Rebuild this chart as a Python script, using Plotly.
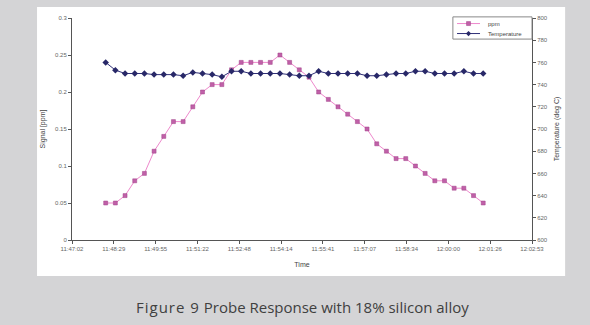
import plotly.graph_objects as go

# Sample times (hh:mm:ss) and readings
times = [
    "11:48:12", "11:48:32", "11:48:52", "11:49:12", "11:49:32", "11:49:52", "11:50:12", "11:50:32",
    "11:50:52", "11:51:12", "11:51:32", "11:51:52", "11:52:12", "11:52:32", "11:52:52", "11:53:12",
    "11:53:32", "11:53:52", "11:54:12", "11:54:32", "11:54:52", "11:55:12", "11:55:32", "11:55:52",
    "11:56:12", "11:56:32", "11:56:52", "11:57:12", "11:57:32", "11:57:52", "11:58:12", "11:58:32",
    "11:58:52", "11:59:12", "11:59:32", "11:59:52", "12:00:12", "12:00:32", "12:00:52", "12:01:12",
]
ppm = [
    0.05, 0.05, 0.06, 0.08, 0.09, 0.12, 0.14, 0.16, 0.16, 0.18,
    0.20, 0.21, 0.21, 0.23, 0.24, 0.24, 0.24, 0.24, 0.25, 0.24,
    0.23, 0.22, 0.20, 0.19, 0.18, 0.17, 0.16, 0.15, 0.13, 0.12,
    0.11, 0.11, 0.10, 0.09, 0.08, 0.08, 0.07, 0.07, 0.06, 0.05,
]
temperature = [
    760, 753, 750, 750, 750, 749, 749, 749, 748, 751,
    750, 749, 747, 752, 752, 750, 750, 750, 750, 749,
    748, 748, 752, 750, 750, 750, 750, 748, 748, 749,
    750, 750, 752, 752, 750, 750, 750, 752, 750, 750,
]

# Time axis ticks (fraction of a day) and their labels
tick_days = [0.491, 0.492, 0.493, 0.494, 0.495, 0.496, 0.497, 0.498, 0.499, 0.500, 0.501, 0.502]
tick_labels = ["11:47:02", "11:48:29", "11:49:55", "11:51:22", "11:52:48", "11:54:14",
               "11:55:41", "11:57:07", "11:58:34", "12:00:00", "12:01:26", "12:02:53"]

PPM_LINE, PPM_MARK, PPM_EDGE = "#ee88cc", "#c060a8", "#a04088"
TEMP_LINE, TEMP_MARK = "#303078", "#282868"


def to_day_fraction(hms):
    h, m, s = (int(p) for p in hms.split(":"))
    return (h * 3600 + m * 60 + s) / 86400.0


x_days = [to_day_fraction(t) for t in times]

fig = go.Figure()
fig.add_trace(go.Scatter(
    x=x_days, y=ppm, name="ppm", mode="lines+markers",
    line=dict(color=PPM_LINE, width=1),
    marker=dict(symbol="square", size=4, color=PPM_MARK,
                line=dict(color=PPM_EDGE, width=0.5)),
))
fig.add_trace(go.Scatter(
    x=x_days, y=temperature, name="Temperature", mode="lines+markers", yaxis="y2",
    line=dict(color=TEMP_LINE, width=1),
    marker=dict(symbol="diamond", size=5, color=TEMP_MARK),
))

tick_font = dict(family="Liberation Sans, Arial, sans-serif", size=6, color="#666666")
title_font = dict(family="Liberation Sans, Arial, sans-serif", size=7, color="#444444")

# White chart panel behind the plot area
fig.add_shape(type="rect", xref="paper", yref="paper",
              x0=-0.076, x1=1.072, y0=-0.162, y1=1.05,
              fillcolor="white", line=dict(width=0), layer="below")

# Compact legend box in the top-right corner of the plot area
fig.add_shape(type="rect", xref="paper", yref="paper",
              x0=0.828, x1=1.0, y0=0.905, y1=1.005,
              fillcolor="white", line=dict(color="#888888", width=1))
legend_rows = [("ppm", 0.975, PPM_LINE, PPM_MARK, "square"),
               ("Temperature", 0.930, TEMP_LINE, TEMP_MARK, "diamond")]
for label, ly, lcol, mcol, sym in legend_rows:
    fig.add_shape(type="line", xref="paper", yref="paper",
                  x0=0.837, x1=0.887, y0=ly, y1=ly, line=dict(color=lcol, width=1))
    if sym == "square":
        fig.add_shape(type="rect", xref="paper", yref="paper",
                      xsizemode="pixel", ysizemode="pixel", xanchor=0.862, yanchor=ly,
                      x0=-2, x1=2, y0=-2, y1=2, fillcolor=mcol, line=dict(color=PPM_EDGE, width=0.5))
    else:
        fig.add_shape(type="path", xref="paper", yref="paper",
                      xsizemode="pixel", ysizemode="pixel", xanchor=0.862, yanchor=ly,
                      path="M 0 -2.6 L 2.6 0 L 0 2.6 L -2.6 0 Z", fillcolor=mcol, line=dict(width=0))
    fig.add_annotation(text=label, xref="paper", yref="paper", x=0.9, y=ly,
                       xanchor="left", yanchor="middle", showarrow=False,
                       font=dict(family="Liberation Sans, Arial, sans-serif", size=6, color="#444444"))

fig.add_annotation(
    text="<span style='letter-spacing:1px'>Figure 9</span> Probe Response with 18% silicon alloy",
    xref="paper", yref="paper", x=0.5, y=-0.302, showarrow=False,
    xanchor="center", yanchor="middle",
    font=dict(family="Open Sans, sans-serif", size=15, color="#404040"),
)

fig.update_layout(
    width=590, height=325,
    margin=dict(l=72, r=58, t=18, b=85),
    paper_bgcolor="#d4d4d6",
    plot_bgcolor="white",
    showlegend=False,
    xaxis=dict(
        range=[0.491, 0.502], tickmode="array", tickvals=tick_days, ticktext=tick_labels,
        showgrid=False, zeroline=False, showline=True, linecolor="#555555", linewidth=1,
        ticks="outside", ticklen=3, tickcolor="#555555", tickfont=tick_font,
        title=dict(text="Time", font=title_font, standoff=10),
    ),
    yaxis=dict(
        range=[0, 0.3], dtick=0.05, showgrid=False, zeroline=False,
        showline=True, linecolor="#555555", linewidth=1,
        ticks="outside", ticklen=3, tickcolor="#555555", tickfont=tick_font,
        title=dict(text="Signal [ppm]", font=title_font, standoff=8),
    ),
    yaxis2=dict(
        range=[600, 800], dtick=20, overlaying="y", side="right",
        showgrid=False, zeroline=False, showline=True, linecolor="#555555", linewidth=1,
        ticks="outside", ticklen=3, tickcolor="#555555", tickfont=tick_font,
        title=dict(text="Temperature (deg C)", font=title_font, standoff=7),
    ),
)

fig.write_html("out.html")
